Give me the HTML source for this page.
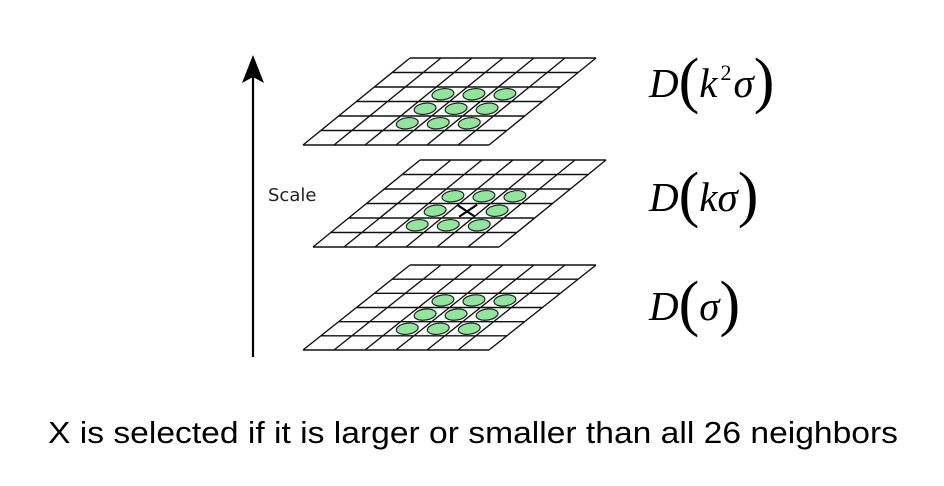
<!DOCTYPE html>
<html><head><meta charset="utf-8"><style>
html,body{margin:0;padding:0;background:#fff;}
svg{display:block;}
</style></head><body>
<svg id="fig" width="944" height="486" viewBox="0 0 944 486" xmlns="http://www.w3.org/2000/svg">
  <rect width="944" height="486" fill="#fff"/>
  <g id="grids"></g>
  <g>
    <line x1="253" y1="76" x2="253" y2="357" stroke="#000" stroke-width="2.2"/>
    <polygon points="253,55 264,83 253,77 242,83" fill="#000"/>
  </g>
  <text x="268" y="201" font-family="DejaVu Sans, 'Liberation Sans', sans-serif" font-size="18" fill="#222">Scale</text>
  <g font-family="'Liberation Serif', serif" fill="#000">
    <text y="97"><tspan x="649" font-style="italic" font-size="41">D</tspan><tspan font-size="62" dy="4">(</tspan><tspan font-style="italic" font-size="41" dy="-4">k</tspan><tspan font-size="22" dy="-17" dx="3">2</tspan><tspan font-style="italic" font-size="41" dy="17" dx="2">σ</tspan><tspan font-size="62" dy="4">)</tspan></text>
    <text y="211"><tspan x="649" font-style="italic" font-size="41">D</tspan><tspan font-size="62" dy="4">(</tspan><tspan font-style="italic" font-size="41" dy="-4">kσ</tspan><tspan font-size="62" dy="4">)</tspan></text>
    <text y="320"><tspan x="649" font-style="italic" font-size="41">D</tspan><tspan font-size="62" dy="4">(</tspan><tspan font-style="italic" font-size="41" dy="-4">σ</tspan><tspan font-size="62" dy="4">)</tspan></text>
  </g>
  <text x="48" y="443" textLength="850" lengthAdjust="spacingAndGlyphs" font-family="'Liberation Sans', sans-serif" font-size="31" fill="#000">X is selected if it is larger or smaller than all 26 neighbors</text>
</svg>
<script>
const layers = [
  {name:'top-grid', top:58, bottom:145, bl:303, x:false},
  {name:'middle-grid', top:160, bottom:247, bl:313, x:true},
  {name:'bottom-grid', top:265, bottom:350, bl:303, x:false}
];
const NS='http://www.w3.org/2000/svg';
const g=document.getElementById('grids');
const cols=6, rows=6, cw=31;
layers.forEach(L=>{
  const lg=document.createElementNS(NS,'g');
  
  
  g.appendChild(lg);
  const H=L.bottom-L.top, shear=107/H, rh=H/rows;
  const leftAt=y=>L.bl+(L.bottom-y)*shear;
  for(let r=2;r<=4;r++){for(let c=2;c<=4;c++){
    const cy=L.top+(r+0.5)*rh, cx=leftAt(cy)+(c+0.5)*cw;
    if(L.x && r===3 && c===3){
      const p=document.createElementNS(NS,'path');
      p.setAttribute('d',`M${cx-9},${cy-6} L${cx+9},${cy+6} M${cx-7},${cy+6} L${cx+11},${cy-6}`);
      p.setAttribute('stroke','#000');p.setAttribute('stroke-width','2.2');
      
      
      lg.appendChild(p);continue;
    }
    const e=document.createElementNS(NS,'ellipse');
    e.setAttribute('cx',cx);e.setAttribute('cy',cy);e.setAttribute('rx',11);e.setAttribute('ry',5.5);
    e.setAttribute('transform',`rotate(-8 ${cx} ${cy})`);
    e.setAttribute('fill','#90e69a');e.setAttribute('stroke','#222');e.setAttribute('stroke-width','1.2');
    
    
    lg.appendChild(e);
  }}
  let d='';
  for(let r=0;r<=rows;r++){const y=L.top+r*rh, x=leftAt(y); d+=`M${x},${y} L${x+cols*cw},${y} `;}
  for(let c=0;c<=cols;c++){d+=`M${L.bl+c*cw},${L.bottom} L${leftAt(L.top)+c*cw},${L.top} `;}
  const p=document.createElementNS(NS,'path');
  p.setAttribute('d',d);p.setAttribute('stroke','#111');p.setAttribute('stroke-width','1.4');p.setAttribute('fill','none');
  
  
  lg.appendChild(p);
});
</script>
</body></html>
